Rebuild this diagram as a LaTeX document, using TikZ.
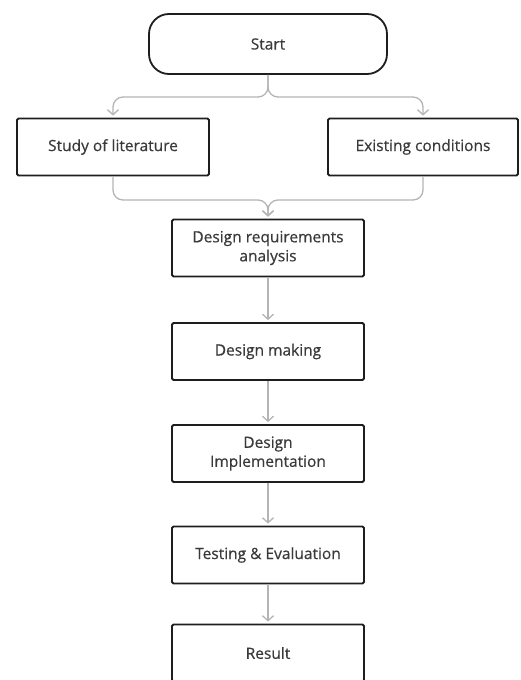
\documentclass[tikz,border=0pt]{standalone}
\usepackage{fontspec}
\setmainfont{Open Sans}
\newfontfamily\medfont[FakeBold=0.5]{Open Sans}
\usetikzlibrary{arrows.meta}
\definecolor{txt}{HTML}{3A3A3A}
\definecolor{edge}{HTML}{1E1E1E}
\definecolor{conn}{HTML}{B4B4B4}
\begin{document}
\begin{tikzpicture}[x=1pt,y=-1pt,
  box/.style={draw=edge,line width=1.8pt,rounded corners=1.5pt,minimum width=192pt,minimum height=57pt,
    align=center,text=txt,font=\medfont\fontsize{15.5}{19}\selectfont,inner sep=2pt},
  startbox/.style={box,rounded corners=20pt,minimum width=238pt,minimum height=60pt},
  link/.style={draw=conn,line width=1.3pt,-{Straight Barb[length=5pt,width=11pt,line width=1.3pt]},shorten >=2pt},
  brace/.style={link,rounded corners=10pt}]
\useasboundingbox (0,0) rectangle (520,680);
\node[startbox] (start) at (268,44) {Start};
\node[box] (lit) at (113,147) {Study of literature};
\node[box,minimum width=190pt] (cond) at (423,147) {Existing conditions};
\node[box] (req) at (268,248) {Design requirements\\analysis};
\node[box] (mak) at (268,351.5) {Design making};
\node[box] (imp) at (268,453.5) {Design\\Implementation};
\node[box] (tst) at (268,555) {Testing \& Evaluation};
\node[box] (res) at (268,653) {Result};
\coordinate (split) at (268,97);
\coordinate (merge) at (268,200);
\draw[brace] (start.south) -- (split) -| (lit.north);
\draw[brace] (start.south) -- (split) -| (cond.north);
\draw[brace] (lit.south) |- (merge) -- (req.north);
\draw[brace] (cond.south) |- (merge) -- (req.north);
\draw[link] (req.south) -- (mak.north);
\draw[link] (mak.south) -- (imp.north);
\draw[link] (imp.south) -- (tst.north);
\draw[link] (tst.south) -- (res.north);
\end{tikzpicture}
\end{document}
